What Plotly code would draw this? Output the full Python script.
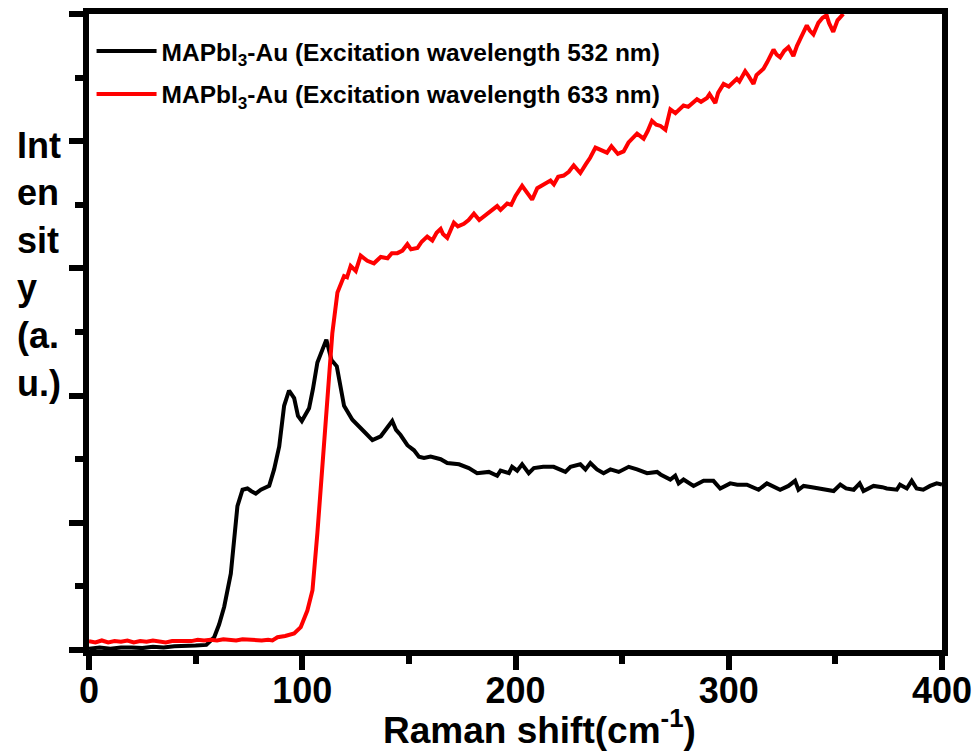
import plotly.graph_objects as go

# ---- data ----
x_532 = [0, 5, 10, 15, 20, 25, 30, 35, 40, 45, 50, 55, 58.7, 61, 63.4, 66.5, 68, 69.6, 72.0, 74.3,
         76, 78.2, 80.6, 84.5, 86.8, 89.2, 91.5, 93.8, 96.2, 98.0, 99.8, 103.2, 105, 107.1, 111.3,
         113.7, 116.2, 119.6, 123.5, 127.4, 130, 132.9, 136.8, 142.2, 144, 146.1, 149.3, 152.4,
         154.7, 157.1, 160.2, 164.9, 168, 173.5, 178.1, 182, 187.5, 191.4, 193, 196.9, 198.4,
         200.8, 203.1, 206.2, 208.6, 213, 217.9, 223.4, 225.8, 230.4, 232.8, 235.1, 238.2, 241.3,
         244.5, 248.4, 253.1, 257, 261.7, 266.4, 268, 272.6, 274.9, 276.5, 278.8, 283.5, 288.2,
         292.8, 296, 300.7, 304, 308.5, 314, 317.9, 324.1, 328, 331.1, 332.7, 335.1, 339, 342.9,
         349.2, 352.3, 355, 358.6, 361.4, 363.2, 367.9, 372, 374.1, 378.8, 380.3, 383.5, 385.8,
         388.1, 391.2, 394.4, 397.5, 400]
y_532 = [0.01, 0.02, 0.01, 0.02, 0.02, 0.015, 0.025, 0.02, 0.03, 0.03, 0.035, 0.04, 0.10, 0.20,
         0.34, 0.60, 0.85, 1.13, 1.26, 1.27, 1.25, 1.23, 1.26, 1.29, 1.42, 1.60, 1.92, 2.04, 1.98,
         1.84, 1.80, 1.90, 2.05, 2.26, 2.44, 2.28, 2.23, 1.92, 1.81, 1.75, 1.70, 1.65, 1.68, 1.80,
         1.73, 1.69, 1.61, 1.57, 1.52, 1.51, 1.52, 1.50, 1.47, 1.46, 1.43, 1.39, 1.40, 1.37, 1.41,
         1.39, 1.44, 1.41, 1.46, 1.39, 1.43, 1.44, 1.44, 1.40, 1.44, 1.46, 1.42, 1.47, 1.42, 1.39,
         1.42, 1.40, 1.44, 1.42, 1.39, 1.40, 1.38, 1.34, 1.37, 1.31, 1.34, 1.29, 1.33, 1.33, 1.27,
         1.31, 1.30, 1.30, 1.26, 1.31, 1.26, 1.29, 1.33, 1.26, 1.29, 1.28, 1.27, 1.25, 1.30, 1.27,
         1.26, 1.31, 1.25, 1.29, 1.28, 1.27, 1.26, 1.30, 1.27, 1.33, 1.27, 1.26, 1.29, 1.31, 1.30]

x_633 = [0, 3, 6, 9, 12, 15, 18, 21, 24, 27, 30, 33, 36, 39, 42, 45, 48, 51, 54, 57, 60, 63, 66,
         69, 72, 75, 78, 81, 84, 86, 88.4, 92, 96.2, 99.3, 102.4, 104.8, 107.1, 109.5, 111.8,
         114.1, 116.5, 119.6, 121, 122.7, 125.1, 127.4, 130.5, 133.6, 136.8, 140, 142, 144.6, 147,
         149.3, 151, 154, 156, 158.6, 161, 163, 164.9, 166, 168, 171.1, 173, 175.8, 178, 180.5,
         183, 185.2, 188, 191.4, 193, 196.1, 198, 200, 203.1, 205, 207.8, 210.2, 213, 216.4, 218,
         220, 222.6, 225, 227.3, 230.4, 233, 235, 237.5, 239.8, 242.9, 245, 248, 250.7, 253, 257,
         260.1, 262, 264, 266, 268, 270.3, 272.6, 275, 278.8, 281, 283, 285.1, 287, 289.8, 291,
         293.7, 295, 297.6, 300, 303.8, 305, 307.7, 309, 311.6, 313, 316.3, 318, 321, 322.5,
         324.1, 326, 328, 330.3, 332, 334, 336.6, 338, 339.7, 342, 344, 345.9, 347, 349, 351, 353.7]
y_633 = [0.07, 0.06, 0.075, 0.06, 0.07, 0.065, 0.075, 0.06, 0.07, 0.065, 0.075, 0.065, 0.06, 0.07,
         0.07, 0.075, 0.07, 0.08, 0.075, 0.08, 0.075, 0.085, 0.08, 0.075, 0.085, 0.08, 0.08, 0.075,
         0.08, 0.075, 0.10, 0.11, 0.13, 0.18, 0.31, 0.47, 0.92, 1.44, 1.97, 2.49, 2.81, 2.94, 2.93,
         3.02, 2.98, 3.10, 3.06, 3.04, 3.09, 3.08, 3.12, 3.12, 3.14, 3.19, 3.15, 3.16, 3.21, 3.25,
         3.22, 3.28, 3.31, 3.27, 3.24, 3.36, 3.33, 3.35, 3.38, 3.43, 3.38, 3.41, 3.45, 3.49, 3.46,
         3.51, 3.50, 3.57, 3.65, 3.60, 3.54, 3.63, 3.66, 3.69, 3.66, 3.72, 3.73, 3.76, 3.81, 3.75,
         3.82, 3.87, 3.95, 3.93, 3.91, 3.96, 3.90, 3.92, 3.99, 4.06, 4.02, 4.08, 4.16, 4.13, 4.12,
         4.09, 4.25, 4.22, 4.28, 4.27, 4.30, 4.33, 4.31, 4.34, 4.37, 4.30, 4.38, 4.45, 4.43, 4.49,
         4.47, 4.55, 4.52, 4.45, 4.52, 4.57, 4.62, 4.72, 4.68, 4.66, 4.71, 4.74, 4.67, 4.75, 4.82,
         4.91, 4.87, 4.84, 4.93, 4.97, 4.99, 4.93, 4.86, 4.95, 5.0]

series_names = ["MAPbI<sub>3</sub>-Au (Excitation wavelength 532 nm)",
                "MAPbI<sub>3</sub>-Au (Excitation wavelength 633 nm)"]
x_ticks = [0, 100, 200, 300, 400]
x_tick_labels = ["0", "100", "200", "300", "400"]
y_title_lines = ["Int", "en", "sit", "y", "(a.", "u.)"]
x_title = "Raman shift(cm<sup>-1</sup>)"

FONT = "Arial, 'Liberation Sans', sans-serif"

fig = go.Figure()
fig.add_trace(go.Scatter(x=x_532, y=y_532, mode="lines", name=series_names[0],
                         line=dict(color="black", width=4), legendgroup="a"))
fig.add_trace(go.Scatter(x=x_633, y=y_633, mode="lines", name=series_names[1],
                         line=dict(color="#ff0000", width=4), legendgroup="b"))

W, H = 978, 755
ml, mr, mt, mb = 89, 36, 14, 105
pw, ph = W - ml - mr, H - mt - mb

anns = []
for i, t in enumerate(y_title_lines):
    py = 145 + i * 47.6
    anns.append(dict(text=t, xref="paper", yref="paper",
                     x=(15 - ml) / pw, y=(H - mb - py) / ph,
                     xanchor="left", yanchor="middle", showarrow=False,
                     font=dict(family=FONT, size=36, color="black", weight="bold")))
# x-axis title
anns.append(dict(text=x_title, xref="paper", yref="paper",
                 x=(539 - ml) / pw, y=(H - mb - 727) / ph,
                 xanchor="center", yanchor="middle", showarrow=False,
                 font=dict(family=FONT, size=37, color="black", weight="bold")))

fig.update_layout(
    width=W, height=H,
    margin=dict(l=ml, r=mr, t=mt, b=mb, autoexpand=False),
    paper_bgcolor="white", plot_bgcolor="white",
    font=dict(family=FONT, color="black", weight="bold"),
    showlegend=True,
    legend=dict(x=0.003, y=0.977, xanchor="left", yanchor="top",
                bgcolor="rgba(0,0,0,0)", borderwidth=0,
                font=dict(family=FONT, size=24.5, color="black", weight="bold"),
                traceorder="grouped", tracegroupgap=8, itemwidth=60),
    annotations=anns,
    xaxis=dict(range=[0, 400], showgrid=False, zeroline=False, automargin=False,
               showline=True, linewidth=6, linecolor="black", mirror=True,
               tickmode="array", tickvals=x_ticks, ticktext=x_tick_labels,
               ticks="outside", ticklen=14, tickwidth=6, tickcolor="black",
               ticklabelstandoff=-10,
               minor=dict(dtick=50, ticks="outside", ticklen=8, tickwidth=6, tickcolor="black",
                          showgrid=False),
               tickfont=dict(family=FONT, size=36, color="black", weight="bold")),
    yaxis=dict(range=[0, 5], showgrid=False, zeroline=False, automargin=False,
               showline=True, linewidth=6, linecolor="black", mirror=True,
               dtick=1, tick0=0, showticklabels=False,
               ticks="outside", ticklen=14, tickwidth=6, tickcolor="black",
               minor=dict(dtick=0.5, ticks="outside", ticklen=8, tickwidth=6, tickcolor="black",
                          showgrid=False)),
)

fig.write_html("out.html")
